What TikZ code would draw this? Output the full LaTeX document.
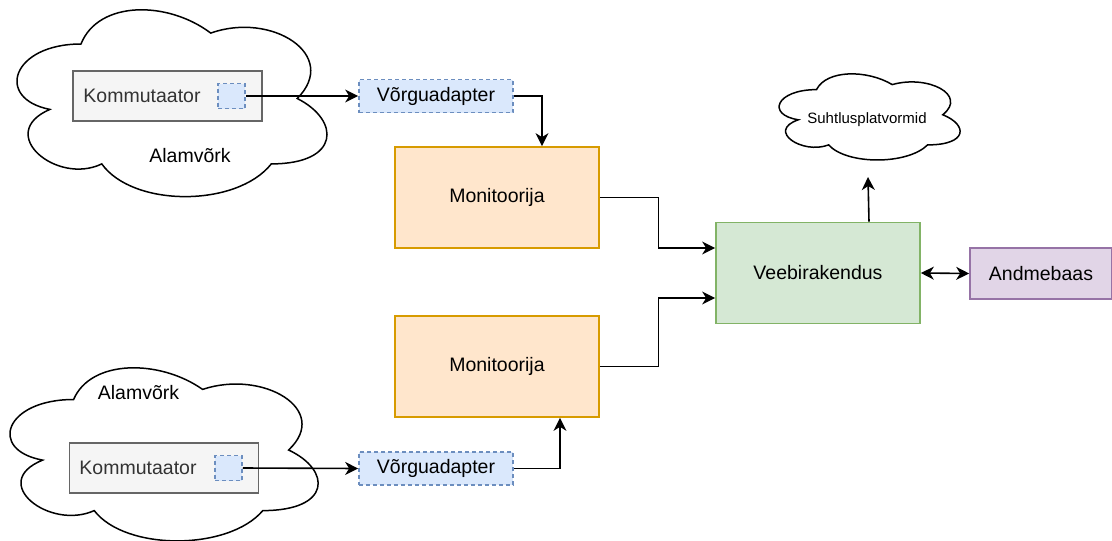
\documentclass[tikz,border=0pt]{standalone}
\usepackage{fontspec}
\setmainfont{Liberation Sans}
\usetikzlibrary{arrows.meta}
\definecolor{orfill}{HTML}{FFE6CC}
\definecolor{ordraw}{HTML}{D79B00}
\definecolor{grfill}{HTML}{D5E8D4}
\definecolor{grdraw}{HTML}{82B366}
\definecolor{pufill}{HTML}{E1D5E7}
\definecolor{pudraw}{HTML}{9673A6}
\definecolor{blfill}{HTML}{DAE8FC}
\definecolor{bldraw}{HTML}{6C8EBF}
\definecolor{gyfill}{HTML}{F5F5F5}
\definecolor{gydraw}{HTML}{666666}
\definecolor{gytext}{HTML}{333333}
\newcommand\drawcloud[4]{%
  \begin{scope}[shift={(#1,#2)},x=#3pt,y=-#4pt]
    \draw[cloudline] (0.25,0.25) .. controls (0.05,0.25) and (0,0.5) .. (0.16,0.55)
      .. controls (0,0.66) and (0.18,0.9) .. (0.31,0.8)
      .. controls (0.4,1) and (0.7,1) .. (0.8,0.8)
      .. controls (1,0.8) and (1,0.6) .. (0.875,0.5)
      .. controls (1,0.3) and (0.8,0.1) .. (0.625,0.2)
      .. controls (0.5,0.05) and (0.3,0.05) .. (0.25,0.25) -- cycle;
  \end{scope}}
\begin{document}
\begin{tikzpicture}[x=1pt,y=-1pt,
  every node/.style={font=\fontsize{19.5}{23}\selectfont, inner sep=0pt},
  cloudline/.style={draw=black, fill=white, line width=1.5pt},
  box/.style={draw, line width=1.7pt, minimum width=#1},
  orbox/.style={box=204pt, minimum height=101pt, fill=orfill, draw=ordraw},
  grbox/.style={box=204pt, minimum height=101pt, fill=grfill, draw=grdraw},
  pubox/.style={box=142pt, minimum height=51pt, fill=pufill, draw=pudraw},
  gybox/.style={box=189pt, minimum height=50pt, fill=gyfill, draw=gydraw},
  adbox/.style={box=154pt, minimum height=33pt, fill=blfill, draw=bldraw, dash pattern=on 4pt off 3pt},
  port/.style={draw=bldraw, fill=blfill, line width=1.5pt, dash pattern=on 4pt off 3pt, minimum width=27pt, minimum height=25pt},
  arr/.style={draw=black, line width=1.6pt, -{Stealth[length=13pt,width=13pt,inset=4pt]}},
  darr/.style={draw=black, line width=1.6pt, {Stealth[length=13pt,width=13pt,inset=4pt]}-{Stealth[length=13pt,width=13pt,inset=4pt]}}
]
\useasboundingbox (0,0) rectangle (1112,541);

% clouds
\drawcloud{-5.5}{-10.5}{346}{218}
\drawcloud{-12.4}{349}{344}{202}
\drawcloud{766}{64.5}{202}{100.5}

% top subnet
\node[gybox] (k1) at (167.5,96) {};
\node[text=gytext] (k1t) at (142,96) {Kommutaator};
\node[port] (p1) at (231.5,96) {};
\node (al1) at (190,156) {Alamvõrk};
\node[adbox] (a1) at (436,96) {Võrguadapter};

% bottom subnet
\node[gybox] (k2) at (164,468) {};
\node[text=gytext] (k2t) at (138,468) {Kommutaator};
\node[port] (p2) at (228.5,468) {};
\node (al2) at (138.5,393) {Alamvõrk};
\node[adbox] (a2) at (436,468.5) {Võrguadapter};

% monitors
\node[orbox] (m1) at (497,197.5) {Monitoorija};
\node[orbox] (m2) at (497,366.5) {Monitoorija};

% web app, db, social
\node[grbox] (w) at (818,273) {Veebirakendus};
\node[pubox] (db) at (1041,273.5) {Andmebaas};
\node[font=\fontsize{15}{18}\selectfont] (sus) at (867,120) {Suhtlusplatvormid};
\coordinate (st) at (868,177);

% connectors
\draw[arr] (p1.east) -- (a1.west);
\draw[arr] (a1.east) -| ([xshift=45pt]m1.north);
\draw[arr] (p2.east) -- (a2.west);
\draw[arr] (a2.east) -| ([xshift=63pt]m2.south);
\draw[arr] (m1.east) -- ++(58.5,0) |- ([yshift=25pt]w.west);
\draw[arr] (m2.east) -- ++(58.5,0) |- ([yshift=-25pt]w.west);
\draw[arr] ([xshift=51pt]w.north) -- (st);
\draw[darr] (w.east) -- (db.west);
\end{tikzpicture}
\end{document}
